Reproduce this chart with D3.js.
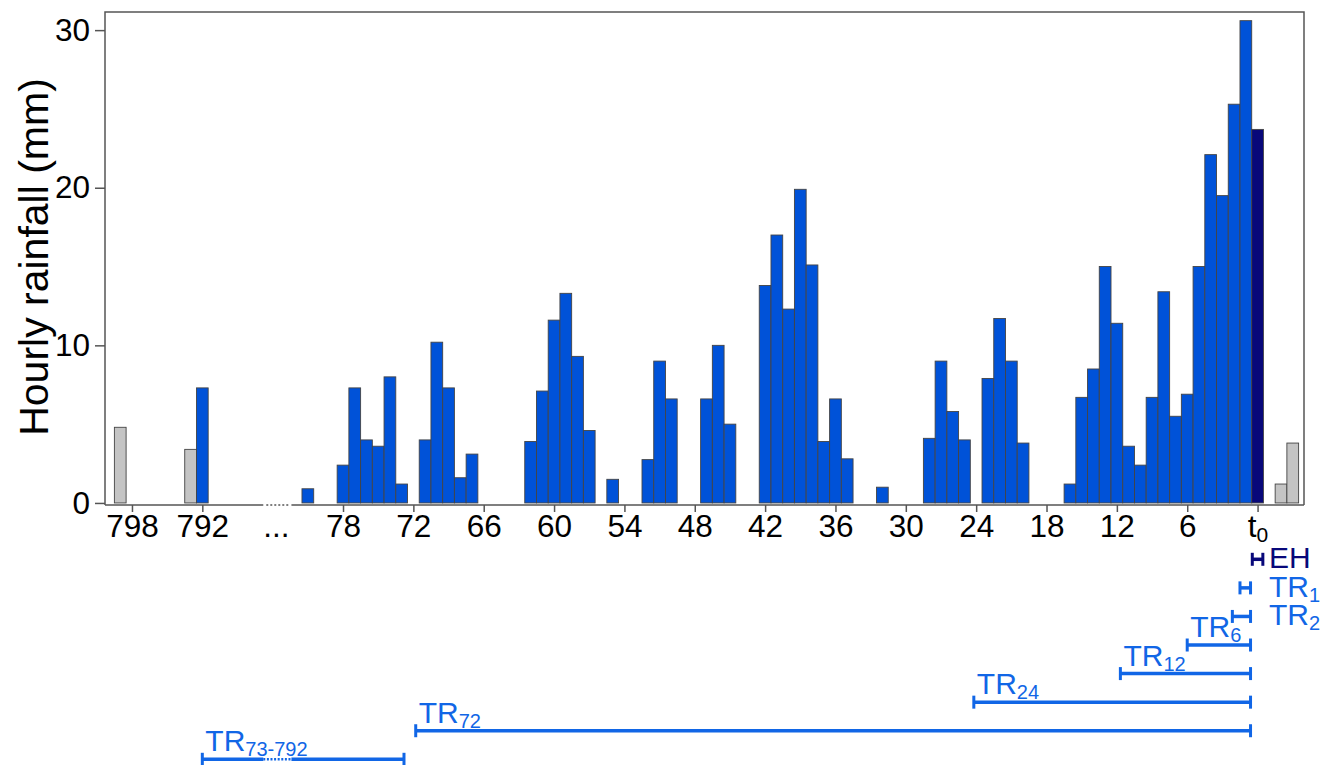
<!DOCTYPE html>
<html>
<head>
<meta charset="utf-8">
<script src="https://cdn.jsdelivr.net/npm/d3@7"></script>
<style>
  body { margin: 0; background: #fff; }
  svg { display: block; font-family: "Liberation Sans", Arial, sans-serif; }
</style>
</head>
<body>
<svg id="chart" width="1324" height="765"></svg>
<script>
// hours before t0; the 79x hours sit on the broken part of the axis
const rainHours = [792, 81, 78, 77, 76, 75, 74, 73, 71, 70, 69, 68, 67,
  62, 61, 60, 59, 58, 57, 55, 52, 51, 50, 47, 46, 45,
  42, 41, 40, 39, 38, 37, 36, 35, 32, 28, 27, 26, 25, 23, 22, 21, 20,
  16, 15, 14, 13, 12, 11, 10, 9, 8, 7, 6, 5, 4, 3, 2, 1];
const rainValues = [7.3, 0.9, 2.4, 7.3, 4.0, 3.6, 8.0, 1.2, 4.0, 10.2, 7.3, 1.6, 3.1,
  3.9, 7.1, 11.6, 13.3, 9.3, 4.6, 1.5, 2.75, 9.0, 6.6, 6.6, 10.0, 5.0,
  13.8, 17.0, 12.3, 19.9, 15.1, 3.9, 6.6, 2.8, 1.0, 4.1, 9.0, 5.8, 4.0, 7.9, 11.7, 9.0, 3.8,
  1.2, 6.7, 8.5, 15.0, 11.4, 3.6, 2.4, 6.7, 13.4, 5.5, 6.9, 15.0, 22.1, 19.5, 25.3, 30.6];
const eventHours = [0];
const eventValues = [23.7];
const outsideHours = [799, 793, -2, -3];
const outsideValues = [4.8, 3.4, 1.2, 3.8];

const tickHours = [798, 792, 78, 72, 66, 60, 54, 48, 42, 36, 30, 24, 18, 12, 6, 0];
const tickLabels = ["798", "792", "78", "72", "66", "60", "54", "48", "42", "36", "30", "24", "18", "12", "6", "t0"];
const yTicks = [0, 10, 20, 30];
const axisBreak = [84.8, 82.4];

const windowNames = ["EH", "TR", "TR", "TR", "TR", "TR", "TR", "TR"];
const windowSubs = ["", "1", "2", "6", "12", "24", "72", "73-792"];
const windowFrom = [0.45, 1.5, 2.15, 6, 11.7, 24.2, 71.8, 792];
const windowTo = [-0.45, 0.6, 0.6, 0.6, 0.6, 0.6, 0.6, 72.8];

const blue = "#0052d8";
const navy = "#08087a";
const lineBlue = "#1166e6";

// broken axis: 79x hours moved next to the 80s
const pos = (h) => (h > 700 ? h - 702 : h);

const svg = d3.select("#chart");
const x = d3.scaleLinear().domain([98.3, -3.96]).range([105, 1304]);
const y = d3.scaleLinear().domain([-0.13, 31.15]).range([505, 12]);
const bw = x(0) - x(1);

function drawBars(hours, values, fill) {
  svg.append("g")
    .selectAll("rect")
    .data(hours.map((h, i) => ({ h, v: values[i] })))
    .enter()
    .append("rect")
    .attr("x", (d) => x(pos(d.h) + 0.5))
    .attr("y", (d) => y(d.v))
    .attr("width", bw)
    .attr("height", (d) => y(0) - y(d.v))
    .attr("fill", fill)
    .attr("stroke", "#444")
    .attr("stroke-width", 0.9);
}
drawBars(outsideHours, outsideValues, "#c4c4c4");
drawBars(rainHours, rainValues, blue);
drawBars(eventHours, eventValues, navy);

// frame
const frame = svg.append("g").attr("stroke", "#555").attr("stroke-width", 1.5).attr("fill", "none");
frame.append("path").attr("d", `M${x.range()[0]},${y.range()[0]}V${y.range()[1]}H${x.range()[1]}V${y.range()[0]}`);
frame.append("line").attr("x1", x.range()[0]).attr("x2", x(axisBreak[0])).attr("y1", 505).attr("y2", 505);
frame.append("line").attr("x1", x(axisBreak[1])).attr("x2", x.range()[1]).attr("y1", 505).attr("y2", 505);
frame.append("line").attr("x1", x(axisBreak[0]) + 3).attr("x2", x(axisBreak[1]) - 3)
  .attr("y1", 505).attr("y2", 505).attr("stroke-dasharray", "2,2");

// axes
const yAxis = svg.append("g").attr("transform", "translate(105,0)")
  .call(d3.axisLeft(y).tickValues(yTicks).tickSize(10).tickPadding(5));
const xAxis = svg.append("g").attr("transform", "translate(0,505)")
  .call(d3.axisBottom(x).tickValues(tickHours.map(pos)).tickSize(7).tickPadding(3)
    .tickFormat((d, i) => tickLabels[i]));
[yAxis, xAxis].forEach((g) => {
  g.select(".domain").remove();
  g.selectAll(".tick line").attr("stroke", "#555").attr("stroke-width", 1.5);
  g.selectAll("text").attr("fill", "#000").style("font-size", "31.5px")
    .style("font-family", '"Liberation Sans", Arial, sans-serif');
});
xAxis.selectAll(".tick text").filter((d, i) => tickLabels[i] === "t0")
  .text(null)
  .call((t) => {
    t.append("tspan").text("t");
    t.append("tspan").text("0").style("font-size", "21px").attr("dy", "5");
  });
svg.append("text")
  .attr("x", x((axisBreak[0] + axisBreak[1]) / 2) - 1)
  .attr("y", 537)
  .attr("text-anchor", "middle")
  .style("font-size", "31.5px")
  .text("...");

svg.append("text")
  .attr("transform", "translate(48,257) rotate(-90)")
  .attr("text-anchor", "middle")
  .style("font-size", "41px")
  .text("Hourly rainfall (mm)");

// time windows below the axis
const rowY = d3.scaleLinear().domain([0, 7]).range([559.3, 759.3]);
windowNames.forEach((name, i) => {
  const col = name === "EH" ? navy : lineBlue;
  const x0 = x(pos(windowFrom[i]));
  const x1 = x(pos(windowTo[i]));
  const yy = rowY(i);
  const g = svg.append("g").attr("stroke", col).attr("fill", "none");
  if (windowSubs[i] === "73-792") {
    const b0 = x(axisBreak[0]), b1 = x(axisBreak[1]);
    g.append("line").attr("x1", x0).attr("x2", b0).attr("y1", yy).attr("y2", yy).attr("stroke-width", 3.5);
    g.append("line").attr("x1", b0).attr("x2", b1).attr("y1", yy).attr("y2", yy)
      .attr("stroke-width", 2.5).attr("stroke-dasharray", "2,1.6");
    g.append("line").attr("x1", b1).attr("x2", x1).attr("y1", yy).attr("y2", yy).attr("stroke-width", 3.5);
  } else {
    g.append("line").attr("x1", x0).attr("x2", x1).attr("y1", yy).attr("y2", yy).attr("stroke-width", 3.5);
  }
  [x0, x1].forEach((xx) => {
    g.append("line").attr("x1", xx).attr("x2", xx).attr("y1", yy - 6.5).attr("y2", yy + 6.5).attr("stroke-width", 3);
  });

  const right = i < 3;
  const label = svg.append("text")
    .attr("x", right ? 1269 : x0 + 3)
    .attr("y", right ? yy + 8.7 : yy - 8)
    .attr("fill", col)
    .style("font-size", "30px");
  label.append("tspan").text(name);
  if (windowSubs[i]) {
    label.append("tspan").text(windowSubs[i]).style("font-size", "20px").attr("dy", "5");
  }
});
</script>
</body>
</html>
